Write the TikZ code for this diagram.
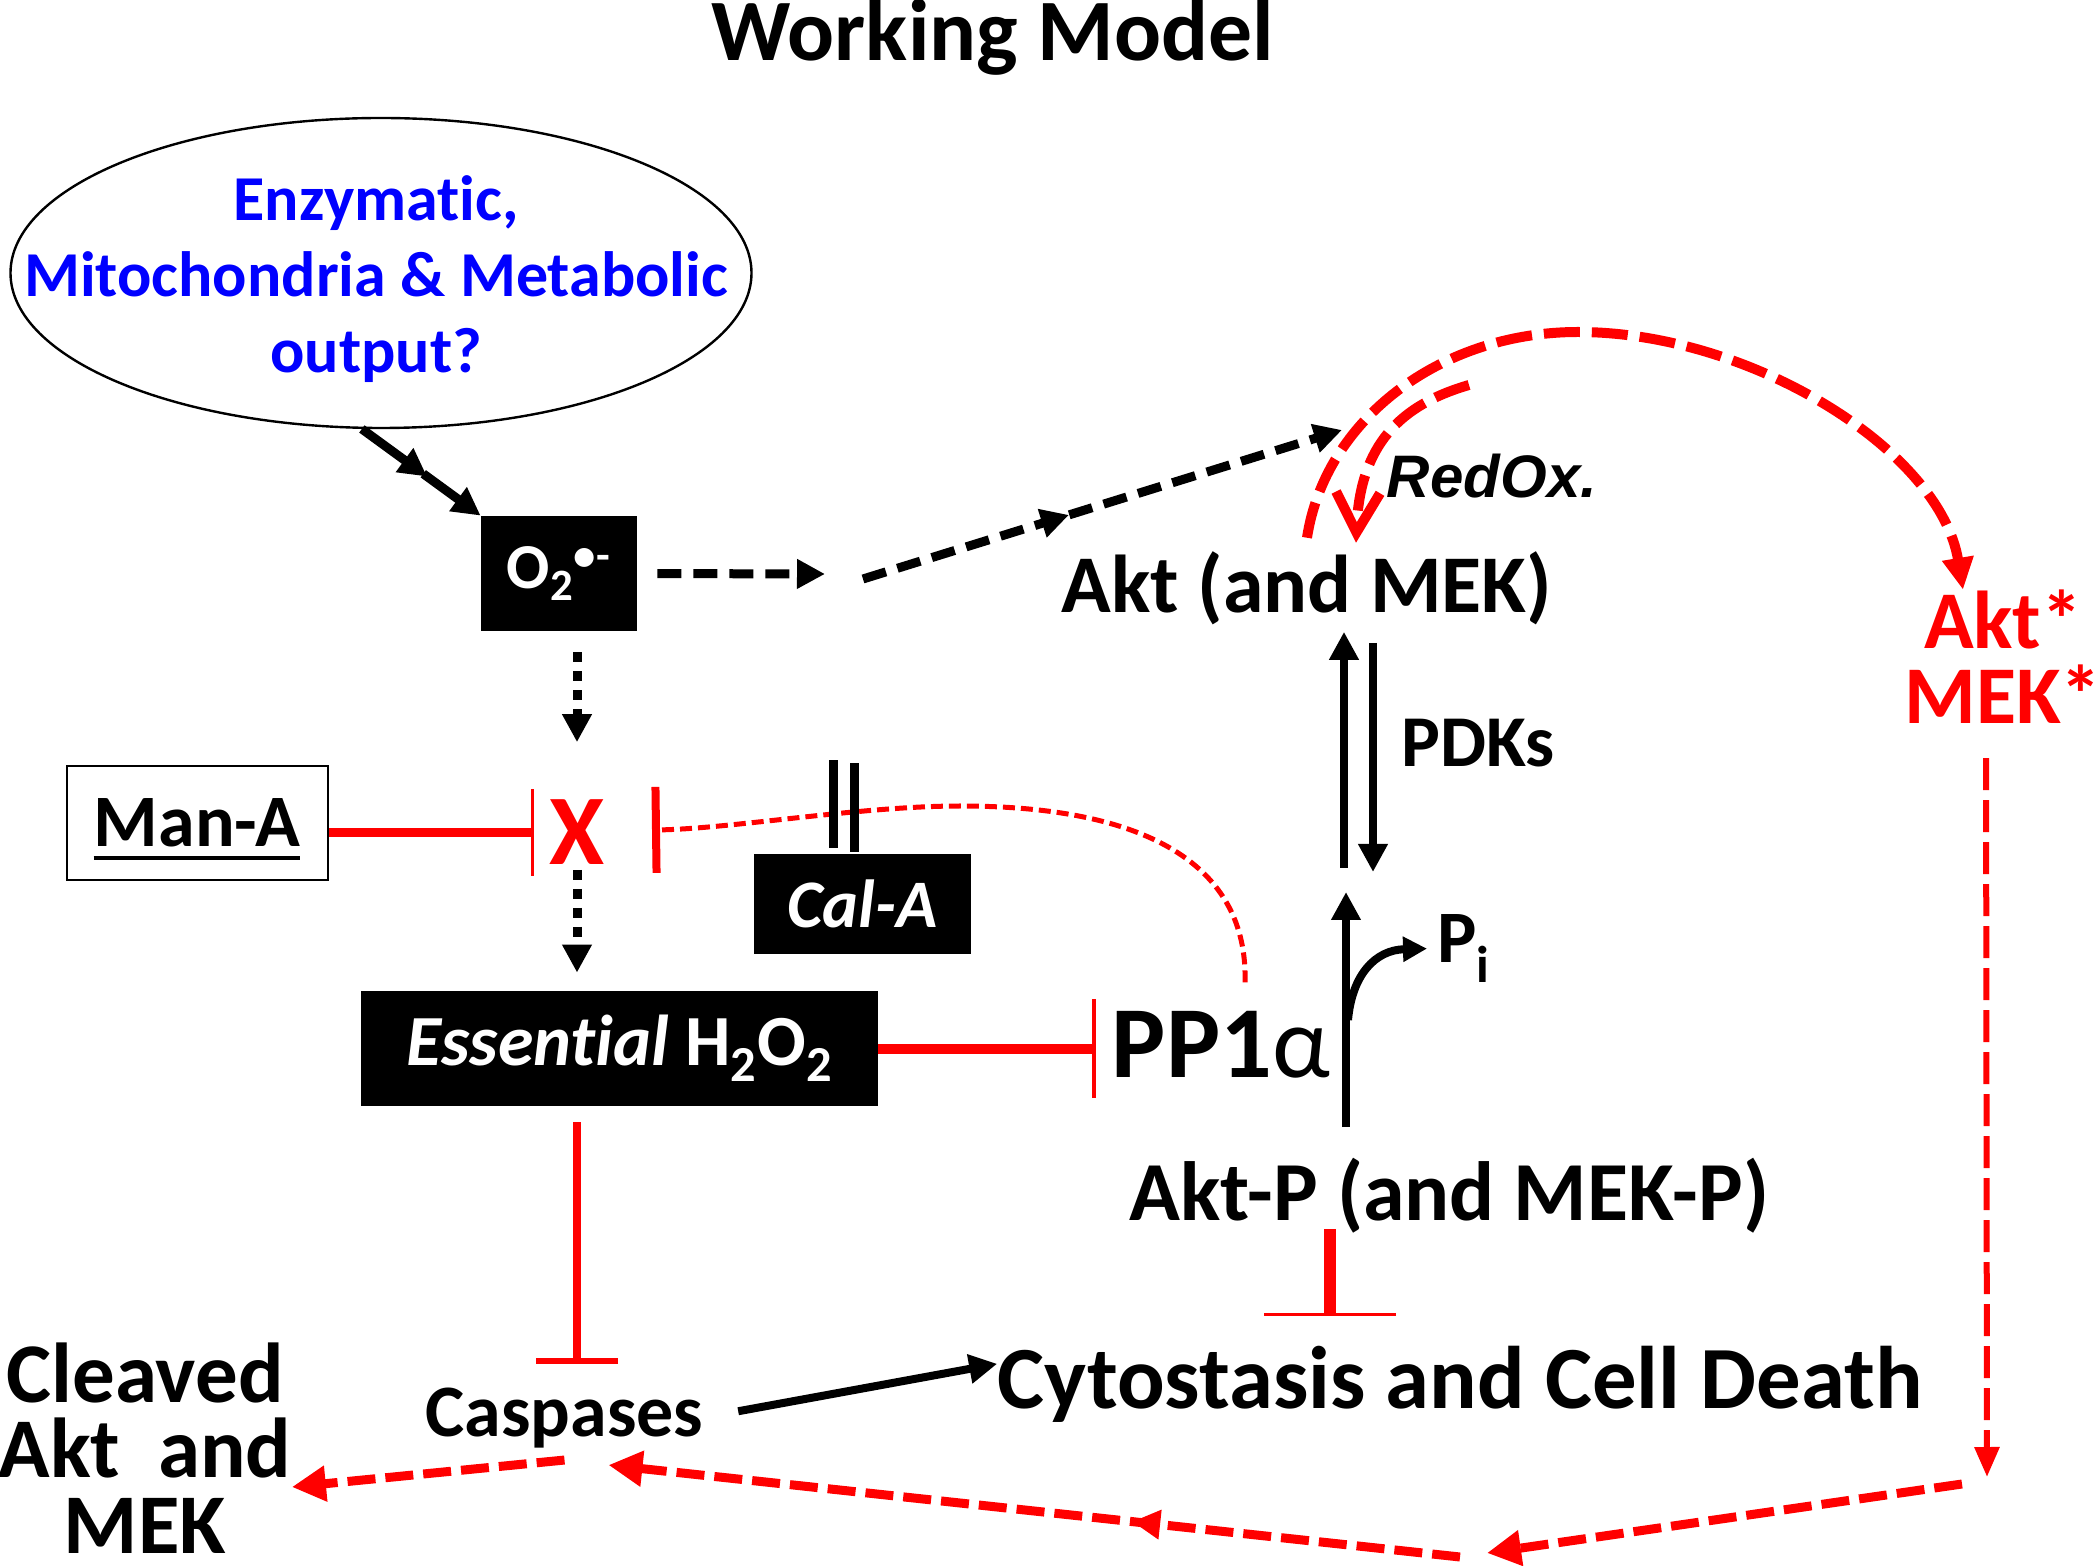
\documentclass[tikz,border=0pt]{standalone}
\usepackage{fontspec}
\setmainfont{Carlito}[Ligatures=NoCommon]
\newfontfamily\redoxfont{Liberation Sans}
\usepackage{tikz}
\usetikzlibrary{arrows.meta, shapes.geometric, decorations.markings, positioning}
\definecolor{pathred}{RGB}{255,0,0}
\definecolor{inkblue}{RGB}{0,0,255}
\newcommand{\fsz}[2]{\fontsize{#1}{#2}\selectfont}
\tikzset{
	word/.style      = {inner sep=0pt, anchor=base, font=\bfseries},
	blackbox/.style  = {shape=rectangle, fill=black, text=white, inner sep=0pt},
	fwd/.style       = {draw, line width=4pt, -{Triangle[length=14pt, width=14pt]}},
	blackdash/.style = {fwd, line width=4.5pt, dash pattern=on 12pt off 6pt},
	dotstep/.style   = {fwd, line width=4.5pt, dash pattern=on 5pt off 4.5pt},
	midhead/.style   = {postaction={decorate}, decoration={markings,
		mark=at position #1 with {\arrow{Triangle[length=14pt, width=14pt]}}}},
	inhibit/.style   = {draw, color=pathred},
	redarc/.style    = {inhibit, line width=5pt, dash pattern=on 18pt off 6pt,
		-{Triangle[length=16pt, width=15pt]}},
	redchain/.style  = {inhibit, line width=4.5pt, dash pattern=on 14pt off 5pt,
		-{Triangle[length=17pt, width=17pt]}}
}

\begin{document}
\begin{tikzpicture}
	[
	x = 0.5pt,
	y = -0.5pt
	]
	\useasboundingbox (0,0) rectangle (2100,1566);
	
	\node (title) [word, font=\bfseries\fsz{43.8}{50}] at (993,61) {Working Model};
	
	\node (srcring) [ellipse, draw, line width=1.2pt, minimum width=370.5pt,
		minimum height=155pt, inner sep=0pt] at (381,273) {};
	\node (src) [align=center, inner sep=0pt, text=inkblue, font=\bfseries\fsz{32}{38}]
		at (376,279) {Enzymatic,\\Mitochondria \& Metabolic\\output?};
	
	\node (o2) [blackbox, minimum width=78pt, minimum height=57.5pt,
		font=\bfseries\fsz{32}{38}] at (559,573.5) {O\textsubscript{2}\textsuperscript{•-}};
	\node (xmark) [inner sep=0pt, text=pathred, font=\bfseries\fsz{50}{56}] at (577,832) {X};
	\node (mana) [draw, line width=1.2pt, minimum width=130.5pt, minimum height=57pt]
		at (197.5,823) {};
	\node (manatxt) [word, font=\bfseries\fsz{37}{44}] at (197,847) {Man-A};
	\node (cala) [blackbox, minimum width=108.5pt, minimum height=50pt,
		font=\bfseries\itshape\fsz{34}{40}] at (862.5,904) {Cal-A\hspace{16pt}};
	\node (h2o2) [blackbox, minimum width=258.5pt, minimum height=57.5pt,
		font=\bfseries\fsz{36}{42}] at (619.5,1048.5)
		{\textit{Essential} H\textsubscript{2}O\textsubscript{2}\hspace{14pt}};
	\node (pp) [word, font=\bfseries\fsz{51}{60}] at (1221,1077) {PP1{\mdseries α}};
	
	\node (akt) [word, font=\bfseries\fsz{41}{48}] at (1307,613) {Akt (and MEK)};
	\node (redox) [word, font=\redoxfont\bfseries\itshape\fsz{30}{36}] at (1492,498) {RedOx.};
	\node (pdks) [word, font=\bfseries\fsz{36.5}{44}] at (1478,767) {PDKs};
	\node (pi) [word, anchor=base west, font=\bfseries\fsz{37}{44}] at (1437,963) {P\textsubscript{i}};
	\node (aktp) [word, font=\bfseries\fsz{42}{50}] at (1449.5,1220) {Akt-P (and MEK-P)};
	\node (aktstar) [align=center, inner sep=0pt, text=pathred, font=\bfseries\fsz{41}{37.5}]
		at (2003,657) {Akt*\\MEK*};
	
	\node (death) [word, font=\bfseries\fsz{44.4}{52}] at (1460,1408) {Cytostasis and Cell Death};
	\node (casp) [word, font=\bfseries\fsz{37}{44}] at (564.5,1436) {Caspases};
	\node (cleaved) [align=center, inner sep=0pt, font=\bfseries\fsz{42.5}{37.75}]
		at (145,1448) {Cleaved\\Akt\ \ and\\MEK};
	
	\coordinate (aktin) at (1342,430);
	\coordinate (bend1) at (825,574);
	\coordinate (bend2) at (863,579);
	\coordinate (xblock) at (652,830);
	\coordinate (upfoot) at (1344,868);
	\coordinate (downtip) at (1373,872);
	\coordinate (pfoot) at (1346,1127);
	\coordinate (ptip) at (1346,892);
	\coordinate (pbranch) at (1348,1020);
	\coordinate (redoxtail) at (1469,385);
	\coordinate (dropend) at (1987,1477);
	\coordinate (sweepstart) at (1962,1484);
	\coordinate (valley) at (1487,1553);
	\coordinate (runstart) at (1460,1557);
	
	\draw[line width=2pt] ([yshift=-5.5pt]manatxt.base west) -- ([yshift=-5.5pt]manatxt.base east);
	
	\draw[fwd, line width=4.5pt, dash pattern=on 32pt off 6pt, midhead=0.55] (srcring.-97) -- (o2.north west);
	\draw[blackdash, shorten <=10pt] (o2.east) -- (bend1);
	\draw[blackdash, midhead=0.43] (bend2) -- (aktin);
	\draw[dotstep, shorten <=10.5pt, shorten >=28.5pt] (xmark.north |- o2.south) -- (xmark.north);
	\draw[dotstep, shorten <=2.5pt, shorten >=9pt] (xmark.south) -- (xmark.south |- h2o2.north);
	
	\draw[inhibit, line width=4.5pt, -{Bar[width=43.5pt, line width=1.5pt]}, shorten >=7.5pt]
		([yshift=-5pt]mana.east) -- ([yshift=-5pt]mana.east -| xmark.west);
	\draw[inhibit, line width=2.5pt, dash pattern=on 6pt off 3pt, -{Bar[width=43pt, line width=4pt]}]
		([xshift=12pt, yshift=14pt]pp.north) .. controls (1248,880) and (1170,806) .. (960,806)
		.. controls (860,806) and (730,829) .. (xblock);
	\draw[line width=4.5pt] ([xshift=-14.75pt, yshift=3pt]cala.north) -- ++(0,-88);
	\draw[line width=4.5pt] ([xshift=-4.25pt, yshift=1pt]cala.north) -- ++(0,-89);
	\draw[inhibit, line width=5pt, -{Bar[width=49.5pt, line width=2pt]}, shorten >=8pt]
		(h2o2.east) -- (h2o2.east -| pp.west);
	\draw[inhibit, line width=4pt, -{Bar[width=41pt, line width=3pt]}, shorten <=8pt, shorten >=11.5pt]
		([xshift=-21.25pt]h2o2.south) -- ([xshift=-21.25pt]h2o2.south |- casp.north);
	\draw[inhibit, line width=6pt, -{Bar[width=66pt, line width=1.5pt]}, shorten <=-2pt, shorten >=14.5pt]
		([xshift=-59.75pt]aktp.south) -- ([xshift=-59.75pt]aktp.south |- death.north);
	
	\draw[fwd, shorten <=17.5pt] (casp.east) -- ([yshift=10pt]death.west);
	\draw[fwd, shorten >=3pt] (upfoot) -- (upfoot |- akt.south);
	\draw[fwd, shorten <=8.5pt] (downtip |- akt.south) -- (downtip);
	\draw[fwd] (pfoot) -- (ptip);
	\draw[line width=4pt, -{Triangle[length=12pt, width=12pt]}]
		(pbranch) .. controls (1352,975) and (1375,950) .. ([xshift=-5pt]pi.west);
	
	\draw[redarc] ([yshift=7pt]akt.north) .. controls (1325,420) and (1440,332) .. (1578,332)
		.. controls (1750,332) and (1940,450) .. ([xshift=-20pt]aktstar.north);
	\draw[redarc, -{Straight Barb[length=20pt, width=22pt]}]
		(redoxtail) .. controls (1400,405) and (1360,445) .. ([xshift=24.5pt, yshift=4.5pt]akt.north);
	\draw[inhibit, line width=3pt, dash pattern=on 16pt off 5pt,
		-{Triangle[length=15pt, width=12pt]}, shorten <=17pt] ([xshift=-8.5pt]aktstar.south) -- (dropend);
	\draw[redchain] (sweepstart) -- (valley);
	\draw[redchain, midhead=0.385] (runstart) -- ([xshift=22pt, yshift=-8.5pt]casp.south);
	\draw[redchain] ([yshift=-6pt]casp.south) -- ([yshift=-19.5pt]cleaved.east);
\end{tikzpicture}
\end{document}
